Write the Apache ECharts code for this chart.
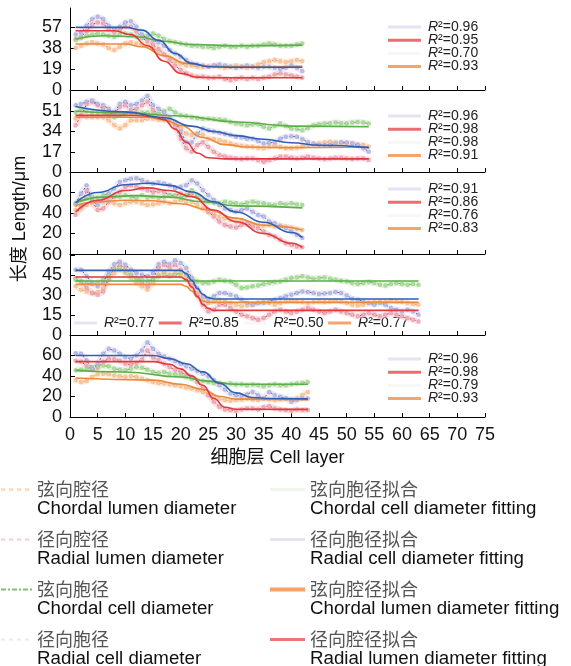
<!DOCTYPE html>
<html>
<head>
<meta charset="utf-8">
<script src="https://cdn.jsdelivr.net/npm/echarts@6/dist/echarts.min.js"></script>
<style>
  html, body { margin: 0; padding: 0; background: #fff; }
  #chart { width: 571px; height: 666px; }
</style>
</head>
<body>
<div id="chart"></div>
<script>
// 各面板实测数据（按细胞层 1..N）
const radialCell1 = [50,52,58,64,66,64,58,55,57,61,62,57,50,47,45,43,40,36,33,30,27,24,23,22,21,22,23,22,21,20,21,22,21,20,21,21,20,19,20,22,20,17]
const radialLumen1 = [46,48,53,59,61,60,55,52,54,57,57,53,47,44,41,37,32,27,22,18,15,13,12,12,11,11,12,10,9,10,11,10,11,10,11,12,14,15,14,13,12,11]
const chordalCell1 = [45,47,49,50,51,50,49,48,50,51,50,48,47,49,51,49,46,44,43,42,41,40,40,39,39,38,39,40,39,39,40,39,40,40,41,42,41,40,40,40,41,42]
const chordalLumen1 = [38,40,42,43,42,41,38,36,39,42,43,42,41,40,38,35,32,29,26,24,22,22,21,21,21,22,21,20,21,22,21,20,21,23,25,26,27,26,25,26,27,26]

const radialCell2 = [56,57,59,60,57,56,53,50,57,59,56,57,60,64,56,53,50,46,42,34,25,25,32,36.5,35,34,33,32,31,29.5,29,28,28,26,24,24.5,25,28,29.5,30,29.5,27.5,25,24,22.6,22.6,22.6,24,25,24.8,24,22.6,20,17]
const radialLumen2 = [39,47.6,57,59,56,53,49,49,54.6,56,52,53,56,59,52,49,46,43.5,38,28,20,17,22.6,25,21,17,14,13,12,11.4,11,11.4,11.4,10,8.6,10,11.4,12.8,12.8,12,11.4,12,12.8,12,11.4,11,11.4,12,12,11.4,11,11.4,11.4,10]
const chordalCell2 = [50,53,51,50,50,50,47.6,46,47.6,49,50,50,50,50,49,49,51,53,50,47.6,47,46,45.4,44.8,44.8,44.3,44,43.5,42,40.7,40,39.3,40,40,38,36.5,38.7,40.7,38.7,36.5,36,35,37,39.3,40,40.7,41,41.5,41,40.7,41.5,42,41.5,40.7]
const chordalLumen2 = [45,47.6,46,46,46,46,43.5,39.3,36.5,39.3,43.5,43.5,43.5,45,45,44,43.5,42,40.7,36.5,32.3,31,32.3,31,28,27.6,26.7,25.3,24,22.6,22,21.5,21.2,20.3,20,21.2,22.6,21.2,20,20,20.3,21.5,22.6,23,24,24.8,25.3,24.8,24,24,24,23,22.6,21.2]

const radialCell3 = [49.4,59,67,52.6,47.7,52.6,59,64,70.3,72,73.5,74,72,70,68.7,69.7,68.7,67,64,65.5,67,72,68.7,62.3,57.4,52.6,47.7,44.5,43,41.3,43,44.5,41.3,38,36.5,31.6,30,26.8,25.2,22,18.7,15.5]
const radialLumen3 = [38,46,62,51,43,44.5,51,55.8,60.6,65.5,67,65.5,64,62.3,60.6,61.3,60.6,57.4,56.8,59,57.4,59,55.8,51,41.3,36.5,31.6,28.4,26.8,25.8,28.4,30,26.8,25.2,22,18.7,17,14,10.6,9,7.4,6.5]
const chordalCell3 = [47.7,52.6,54.2,55.8,54.8,57.4,59,57.4,55.8,57.4,55.8,54.8,57.4,54.8,55.8,54.8,55.8,57.4,56.8,54.8,57.4,62.3,57.4,52.6,51,50,49.4,51,50,49.4,48.4,50,51,50,49.4,48.4,47.7,49.4,48.4,49.4,48.4,47.7]
const chordalLumen3 = [42.9,44.5,47.7,49.4,51,51,52.6,49.4,47.7,49.4,51,51,49.4,47.7,48.4,49.4,51,49.4,51,52.6,51,51,47.7,44.5,41.3,39.7,36.5,34.8,33.2,31.6,32.3,30,29,28.4,27.7,28.4,26.8,27.7,26.8,25.8,24.5,23.5]

const radialCell4 = [49,49,44,39,36.5,39,47.7,53,55,52.7,49,46.5,45.2,44,46.5,53,55,53,56,54,50.2,42.7,35.2,29,26.5,29,31.5,31.5,30.2,29,26.5,24,22.7,24,24,25.2,26.5,27.7,29,30.2,31.5,32.7,32.2,31.5,30.7,31.2,31.5,32.2,31.5,29.7,27.2,26.5,25.2,24,22.7,24,22.7,20.2,19,17.7,19,17.7,15.2]
const radialLumen4 = [42.7,40.2,35.2,31.5,30.2,32.7,42.7,50,52.5,50.2,45.2,42.7,39,36.5,42.7,50.2,52.7,50.2,52.7,49,45.2,37.7,30.2,22.7,17.7,19,22.7,22.7,20.2,17.7,15.2,14,12.7,11.5,12.7,15.2,17.7,19,17.7,16.5,17.7,19,20.2,19,17.7,16.5,17.7,19,17.7,16.5,15.2,14,15.2,16.5,15.2,14,15.2,16.5,15.2,14,12.7,11.5,10.2]
const chordalCell4 = [41.5,40.2,39,38.2,39,41.5,45.2,49,50.2,47.7,45.2,42.7,41.5,40.7,41.5,44,45.2,44,45.2,46.5,45.2,42.7,40.2,39,39,40.2,41.5,40.7,40.2,37.7,35.2,35.7,36.5,37.2,38.2,39,39.7,40.2,41.5,42.7,43.2,44,43.2,42.2,42.7,43.2,42.2,41.5,40.7,40.2,39,38.2,39,39.7,39,37.7,37.2,38.2,39,38.2,37.7,38.2,37.7]
const chordalLumen4 = [36.5,34,32.7,31.5,32.2,35.2,41.5,46.5,49,46.5,42.7,39,36.5,34,39,45.2,47.7,45.2,46.5,44,41.5,36.5,31.5,26.5,24,25.2,26.5,25.2,24,22.7,21.5,22.2,22.7,24,25.2,24,22.7,24,25.2,25.7,25.2,24.7,24,24.7,25.2,24.7,25.2,25.7,25.2,24,22.7,22.2,22.7,24,24.7,25.2,24.7,25.7,25.2,24.7,24,23.2,22.7]

const radialCell5 = [62.3,61.6,55.2,47.1,51.9,61.6,66.5,64.8,61.6,58.4,56.8,60,64.8,72.9,66.5,61.6,59,56.8,54.5,51.9,49.4,47.1,44.8,42.3,39.7,35.8,31,26.8,22.9,21.3,20.3,22.3,24.5,21.3,18.1,24.5,21.3,19.7,18.1,14.8,16.5,18.1,18.1]
const radialLumen5 = [55,54,50,46,48,54,57,56.5,55,52,51,53,56,65,58,55.8,51.9,48.7,46.1,43.9,41.3,39,34.2,27.7,21.3,14.8,10,7.4,6.8,6.1,7.4,8.4,8.4,7.4,9.4,10.6,8.4,7.4,6.8,6.1,7.4,6.8,6.8]
const chordalCell5 = [45.5,46.1,47.1,48.7,49.4,50.3,49.4,47.1,46.1,45.5,47.1,48.7,48.1,46.1,43.9,42.9,43.9,42.3,41.6,40.6,39,37.4,35.8,35.2,34.2,33.2,32.6,31.9,32.6,31.6,31.9,31,31.6,31,30,31,31.9,31,31,31.9,32.6,33.2,34.2]
const chordalLumen5 = [35.8,34.2,35.2,39,41.6,42.3,41.6,40.6,39.7,39,39.7,39,37.4,35.8,34.2,33.2,32.6,31.9,31,30,28.7,27.7,26.1,24.5,22.3,20.3,18.1,16.5,15.8,16.5,17.1,18.1,17.1,16.5,18.1,17.1,16.5,17.1,18.1,17.1,18.1,21.3,24.5]

// 拟合曲线 [细胞层, 长度]
const radialCellFit1 = [[1,56.5],[10,56.5],[13,54],[16,45],[19,33],[22,24],[25,21],[30,20.5],[42,20.5]]
const radialLumenFit1 = [[1,53.5],[8,53.5],[11,50],[14,40],[17,26],[20,15],[23,11.5],[27,11],[42,11]]
const chordalCellFit1 = [[1,46],[6,49],[12,48],[17,44],[22,41],[30,40],[42,40.5]]
const chordalLumenFit1 = [[1,41.5],[10,41.5],[13,39],[17,31],[21,24],[25,21.5],[30,21],[42,21.5]]

const radialCellFit2 = [[1,55],[10,50.5],[17,45.5],[22,38.5],[26,34],[30,30.5],[35,27.5],[40,24.5],[45,22.5],[54,20.5]]
const radialLumenFit2 = [[1,47.5],[12,47.5],[15,46.5],[17,44],[19,36],[21,25],[23,16],[25,12],[28,11],[54,11]]
const chordalCellFit2 = [[1,51],[10,49.5],[20,47],[30,42],[40,38.5],[54,38]]
const chordalLumenFit2 = [[1,46],[14,46],[17,44],[20,39],[24,29],[28,23],[32,21],[38,20.5],[54,21]]

const radialCellFit3 = [[1,50],[5,60],[10,67.5],[14,69],[18,67],[22,60.5],[26,51],[30,41],[35,31],[40,21],[42,16]]
const radialLumenFit3 = [[1,41],[5,52.5],[10,62],[14,64.5],[18,62],[22,56],[26,43],[30,31.5],[35,20],[40,10.5],[42,6.5]]
const chordalCellFit3 = [[1,50],[6,55.5],[12,57],[18,55.5],[24,51],[30,47],[42,45]]
const chordalLumenFit3 = [[1,47],[5,51],[10,52.5],[15,52],[20,49],[25,43],[30,35],[35,28],[42,23.5]]

const radialCellFit4 = [[1,48.5],[20,48.5],[21,46],[22,41],[23,35],[24,30.5],[25,28],[26,27],[63,27]]
const radialLumenFit4 = [[1,43.5],[20,43.5],[21,41.5],[22,36],[23,29],[24,23],[25,20],[26,18.5],[63,18.5]]
const chordalCellFit4 = [[1,40.5],[63,40.5]]
const chordalLumenFit4 = [[1,38],[20,38],[21,36.5],[22,33],[23,28.5],[24,25.5],[25,24.5],[63,24.5]]

const radialCellFit5 = [[1,60],[15,60],[18,57],[21,52],[24,44],[27,33],[30,23.5],[33,19],[36,18],[43,17.7]]
const radialLumenFit5 = [[1,54],[15,54],[18,51.5],[20,47],[22,40],[24,31],[26,18],[28,9.5],[30,7.5],[43,7.4]]
const chordalCellFit5 = [[1,45.5],[10,43.9],[20,39],[25,35],[30,32],[43,32]]
const chordalLumenFit5 = [[1,38],[15,36],[20,32],[24,27],[27,20],[30,17.4],[43,17]]

// R² 顺序：径向胞径拟合、径向腔径拟合、弦向胞径拟合、弦向腔径拟合
const r2Panel1 = [0.96, 0.95, 0.70, 0.93]
const r2Panel2 = [0.96, 0.98, 0.98, 0.91]
const r2Panel3 = [0.91, 0.86, 0.76, 0.83]
const r2Panel4 = [0.77, 0.85, 0.50, 0.77]
const r2Panel5 = [0.96, 0.98, 0.79, 0.93]

// 坐标轴刻度
const yMax = [74, 68, 80, 60, 80]
const yInterval = [19, 17, 20, 15, 20]
const xTicks = { min: 0, max: 75, interval: 5 }

const legendLabels = {
  CL: ['弦向腔径', 'Chordal lumen diameter'],
  RL: ['径向腔径', 'Radial lumen diameter'],
  CC: ['弦向胞径', 'Chordal cell diameter'],
  RC: ['径向胞径', 'Radial cell diameter'],
  CCF: ['弦向胞径拟合', 'Chordal cell diameter fitting'],
  RCF: ['径向胞径拟合', 'Radial cell diameter fitting'],
  CLF: ['弦向腔径拟合', 'Chordal lumen diameter fitting'],
  RLF: ['径向腔径拟合', 'Radial lumen diameter fitting']
}

const enFont = 'Liberation Sans'
const cnFont = 'Noto Sans CJK SC'

const panels = [
  { RC: radialCell1, RL: radialLumen1, CC: chordalCell1, CL: chordalLumen1, RCF: radialCellFit1, RLF: radialLumenFit1, CCF: chordalCellFit1, CLF: chordalLumenFit1 },
  { RC: radialCell2, RL: radialLumen2, CC: chordalCell2, CL: chordalLumen2, RCF: radialCellFit2, RLF: radialLumenFit2, CCF: chordalCellFit2, CLF: chordalLumenFit2 },
  { RC: radialCell3, RL: radialLumen3, CC: chordalCell3, CL: chordalLumen3, RCF: radialCellFit3, RLF: radialLumenFit3, CCF: chordalCellFit3, CLF: chordalLumenFit3 },
  { RC: radialCell4, RL: radialLumen4, CC: chordalCell4, CL: chordalLumen4, RCF: radialCellFit4, RLF: radialLumenFit4, CCF: chordalCellFit4, CLF: chordalLumenFit4 },
  { RC: radialCell5, RL: radialLumen5, CC: chordalCell5, CL: chordalLumen5, RCF: radialCellFit5, RLF: radialLumenFit5, CCF: chordalCellFit5, CLF: chordalLumenFit5 }
]
const r2Values = [r2Panel1, r2Panel2, r2Panel3, r2Panel4, r2Panel5]

// 样式
const gridBoxes = [
  { top: 8, height: 82 },
  { top: 91, height: 81 },
  { top: 172, height: 82 },
  { top: 255, height: 80 },
  { top: 335, height: 82 }
]
const dataStyle = {
  CL: { line: '#e98f48', band: '#fbe0c8', dot: '#f4b98a', type: [2, 2] },
  RL: { line: '#a83245', band: '#f8ccd2', dot: '#eb9aa6', type: [2, 2] },
  CC: { line: '#55a541', band: '#d2eac6', dot: '#9ccf8c', type: [5, 2, 1, 2] },
  RC: { line: '#3b4898', band: '#dddcf3', dot: '#a9abdc', type: [2, 2] }
}
const fitColor = { CCF: '#5cae4a', RCF: '#2f5fb3', CLF: '#ea8a3e', RLF: '#e0393e' }
const r2Colors = ['#e4e4f5', '#ea6d70', '#f6f9f3', '#f5a56b']

const toPoints = arr => arr.map((v, i) => [i + 1, v])

const grid = []
const xAxis = []
const yAxis = []
const series = []

gridBoxes.forEach((box, i) => {
  grid.push({ left: 70, width: 415, top: box.top, height: box.height })
  const last = i === gridBoxes.length - 1
  xAxis.push({
    gridIndex: i,
    type: 'value',
    min: xTicks.min,
    max: xTicks.max,
    interval: xTicks.interval,
    axisLine: { lineStyle: { color: '#000', width: 1 } },
    axisTick: { inside: true, length: 4, lineStyle: { color: '#000' } },
    axisLabel: { show: last, fontSize: 18, color: '#111', fontFamily: enFont, margin: 9 },
    splitLine: { show: false },
    name: last ? '细胞层 Cell layer' : '',
    nameLocation: 'middle',
    nameGap: 32,
    nameTextStyle: { fontSize: 18, color: '#111', fontFamily: enFont + ',' + cnFont }
  })
  yAxis.push({
    gridIndex: i,
    type: 'value',
    min: 0,
    max: yMax[i],
    interval: yInterval[i],
    axisLine: { show: true, lineStyle: { color: '#000', width: 1 } },
    axisTick: { show: true, inside: true, length: 5, lineStyle: { color: '#000' } },
    axisLabel: {
      fontSize: 18, color: '#111', fontFamily: enFont, margin: 8,
      showMinLabel: i !== 2,
      showMaxLabel: i === 3
    },
    splitLine: { show: false }
  })

  const p = panels[i]
  ;['CL', 'RL', 'CC', 'RC'].forEach(key => {
    const st = dataStyle[key]
    const pts = toPoints(p[key])
    // 浅色误差带
    series.push({
      type: 'line', xAxisIndex: i, yAxisIndex: i, data: pts,
      symbol: 'none', silent: true, z: 1,
      lineStyle: { width: 6, color: st.band, opacity: 0.6 }
    })
    series.push({
      name: key, type: 'line', xAxisIndex: i, yAxisIndex: i, data: pts,
      symbol: 'emptyCircle', symbolSize: 2.5, z: 2,
      itemStyle: { color: st.dot, borderWidth: 0.6, opacity: 0.8 },
      lineStyle: { width: 1, color: st.line, type: st.type, opacity: 0.85 }
    })
  })
  ;['CCF', 'CLF', 'RLF', 'RCF'].forEach(key => {
    series.push({
      name: key, type: 'line', xAxisIndex: i, yAxisIndex: i, data: p[key],
      symbol: 'none', smooth: 0.5, smoothMonotone: 'x', z: 3,
      lineStyle: { width: 1.6, color: fitColor[key] }
    })
  })
})

// 面板内 R² 图例
const r2Rows = [27, 116, 189, 323, 359]
const graphic = []
r2Values.forEach((vals, p) => {
  vals.forEach((v, j) => {
    const horizontal = p === 3
    const x = horizontal ? 74 + j * 84.7 : 388
    const y = horizontal ? r2Rows[p] : r2Rows[p] + j * 13.2
    const len = horizontal ? 23 : 33
    graphic.push({
      type: 'line', silent: true,
      shape: { x1: x, y1: y, x2: x + len, y2: y },
      style: { stroke: r2Colors[j], lineWidth: 3 }
    })
    graphic.push({
      type: 'text', silent: true, x: x + len + 7, y: y,
      style: {
        text: '{i|R}²=' + v.toFixed(2),
        fontSize: 14, fontFamily: enFont, fill: '#222', verticalAlign: 'middle',
        rich: { i: { fontSize: 14, fontFamily: enFont, fontStyle: 'italic', fill: '#222' } }
      }
    })
  })
})
graphic.push({
  type: 'text', silent: true, x: 20, y: 219, rotation: Math.PI / 2,
  style: {
    text: '长度 Length/μm', fontSize: 18, fontFamily: enFont + ',' + cnFont,
    fill: '#111', align: 'center', verticalAlign: 'middle'
  }
})

// 图例文字：首行留空，使图标与中文行对齐
const legendText = {
  fontSize: 18,
  rich: {
    pad: { fontSize: 18, lineHeight: 19.5 },
    cn: { fontSize: 18, lineHeight: 19.5, color: '#555', fontFamily: cnFont },
    en: { fontSize: 18.7, lineHeight: 19.5, color: '#111', fontFamily: enFont }
  }
}
const legendFormatter = name => '{pad| }\n{cn|' + legendLabels[name][0] + '}\n{en|' + legendLabels[name][1] + '}'

const option = {
  animation: false,
  backgroundColor: '#fff',
  grid,
  xAxis,
  yAxis,
  series,
  graphic,
  legend: [
    {
      left: 0, top: 461, height: 260, orient: 'vertical', padding: 0, itemGap: -7.5,
      itemWidth: 31, itemHeight: 14, selectedMode: false,
      formatter: legendFormatter, textStyle: legendText,
      data: [
        { name: 'CL', itemStyle: { opacity: 0 }, lineStyle: { color: '#f8c9a6', width: 2, type: [4, 4] } },
        { name: 'RL', itemStyle: { opacity: 0 }, lineStyle: { color: '#f6c3c8', width: 2, type: [4, 4] } },
        { name: 'CC', itemStyle: { opacity: 0 }, lineStyle: { color: '#6cb45a', width: 2, type: [5, 2, 2, 2] } },
        { name: 'RC', itemStyle: { opacity: 0 }, lineStyle: { color: '#e6e6ee', width: 2, type: [4, 4] } }
      ]
    },
    {
      left: 268, top: 461, height: 260, orient: 'vertical', padding: 0, itemGap: -7.5,
      itemWidth: 35, itemHeight: 14, selectedMode: false,
      formatter: legendFormatter, textStyle: legendText,
      data: [
        { name: 'CCF', itemStyle: { opacity: 0 }, lineStyle: { color: '#eef5ea', width: 3 } },
        { name: 'RCF', itemStyle: { opacity: 0 }, lineStyle: { color: '#e3e3f4', width: 3 } },
        { name: 'CLF', itemStyle: { opacity: 0 }, lineStyle: { color: '#f3a269', width: 4 } },
        { name: 'RLF', itemStyle: { opacity: 0 }, lineStyle: { color: '#ed7477', width: 3 } }
      ]
    }
  ]
}

const chart = echarts.init(document.getElementById('chart'))
chart.setOption(option)
</script>
</body>
</html>
